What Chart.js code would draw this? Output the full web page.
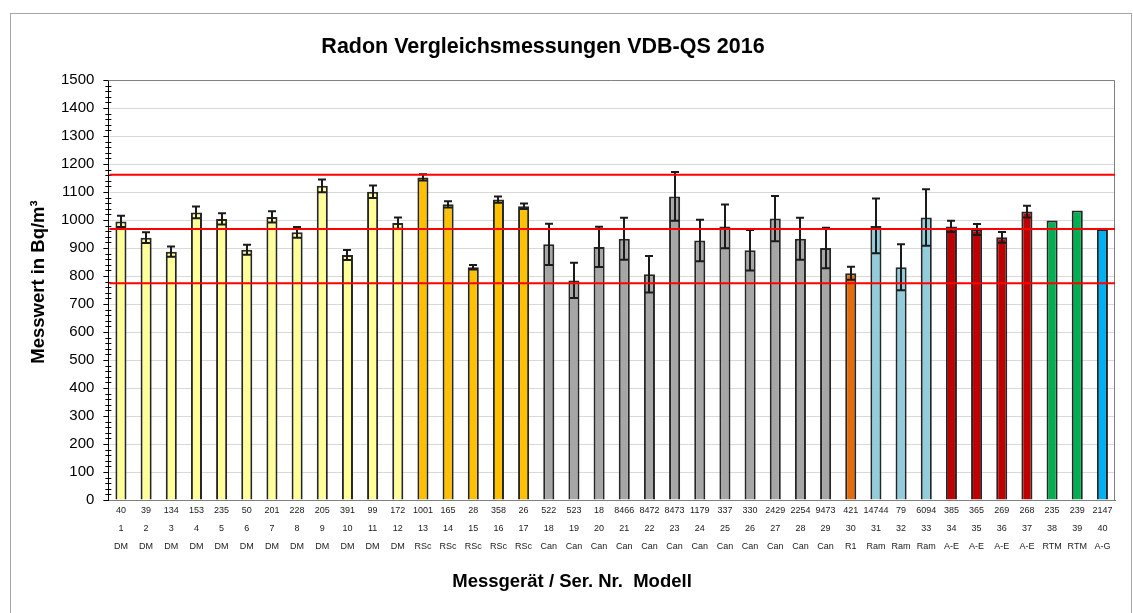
<!DOCTYPE html>
<html>
<head>
<meta charset="utf-8">
<title>Radon Vergleichsmessungen VDB-QS 2016</title>
<script src="https://cdn.jsdelivr.net/npm/chart.js@4.4.1/dist/chart.umd.min.js"></script>
<style>
  html, body { margin: 0; padding: 0; background: #fff; }
  #wrap { position: relative; width: 1133px; height: 613px; overflow: hidden; }
  #frame { position: absolute; left: 10px; top: 13px; width: 1120px; height: 660px; border: 1px solid #a6a6a6; }
  #radonChart { position: absolute; left: 0; top: 0; }
</style>
</head>
<body>
<div id="wrap">
  <div id="frame"></div>
  <canvas id="radonChart" width="1133" height="613"></canvas>
</div>
<script>

const serials = [40, 39, 134, 153, 235, 50, 201, 228, 205, 391, 99, 172, 1001, 165, 28, 358, 26,
  522, 523, 18, 8466, 8472, 8473, 1179, 337, 330, 2429, 2254, 9473, 421, 14744, 79, 6094,
  385, 365, 269, 268, 235, 239, 2147];
const deviceNos = [1, 2, 3, 4, 5, 6, 7, 8, 9, 10, 11, 12, 13, 14, 15, 16, 17, 18, 19, 20,
  21, 22, 23, 24, 25, 26, 27, 28, 29, 30, 31, 32, 33, 34, 35, 36, 37, 38, 39, 40];
const models = ['DM', 'DM', 'DM', 'DM', 'DM', 'DM', 'DM', 'DM', 'DM', 'DM', 'DM', 'DM',
  'RSc', 'RSc', 'RSc', 'RSc', 'RSc',
  'Can', 'Can', 'Can', 'Can', 'Can', 'Can', 'Can', 'Can', 'Can', 'Can', 'Can', 'Can',
  'R1', 'Ram', 'Ram', 'Ram', 'A-E', 'A-E', 'A-E', 'A-E', 'RTM', 'RTM', 'A-G'];

const values = [995, 937, 887, 1027, 1004, 894, 1011, 956, 1122, 875, 1101, 989,
  1152, 1056, 831, 1073, 1049,
  913, 784, 904, 933, 806, 1084, 927, 977, 892, 1005, 933, 900,
  810, 979, 831, 1009, 977, 966, 938, 1030, 998, 1034, 968];
const errors = [20, 19, 18, 21, 20, 18, 20, 19, 23, 18, 22, 20,
  11, 11, 8, 11, 10,
  74, 63, 72, 75, 65, 87, 74, 78, 72, 81, 75, 72,
  23, 98, 82, 101, 20, 20, 19, 21, null, null, null];

// reference value and +/-20 % limits
const refLines = [774.4, 968, 1161.6];
const yTicks = [0, 1500, 100];

const chartTitle = 'Radon Vergleichsmessungen VDB-QS 2016';
const xTitle = 'Messgerät / Ser. Nr.  Modell';
const yTitle = 'Messwert in Bq/m³';

const modelColors = {
  'DM': '#FFFF99', 'RSc': '#FFC000', 'Can': '#A6A6A6', 'R1': '#E46C0A',
  'Ram': '#92CDDC', 'A-E': '#C00000', 'RTM': '#00B050', 'A-G': '#00B0F0'
};

const FONT = "'Liberation Sans', Arial, sans-serif";
Chart.defaults.font.family = FONT;

const labels = serials.map((s, i) => [String(s), String(deviceNos[i]), models[i]]);

// plot frame, minor ticks, error bars, limit lines and the titles
const decorPlugin = {
  id: 'decor',
  beforeDatasetsDraw(chart) {
    const { ctx, chartArea: a } = chart;
    ctx.save();
    ctx.strokeStyle = '#808080';
    ctx.lineWidth = 1;
    ctx.beginPath();
    ctx.moveTo(a.left, a.top + 0.5);
    ctx.lineTo(a.right - 0.5, a.top + 0.5);
    ctx.lineTo(a.right - 0.5, a.bottom);
    ctx.stroke();
    ctx.restore();
  },
  afterDatasetsDraw(chart) {
    const { ctx, chartArea: a, scales } = chart;
    const y = scales.y;
    const meta = chart.getDatasetMeta(0);
    ctx.save();

    // minor ticks on the value axis
    ctx.strokeStyle = '#000';
    ctx.lineWidth = 1;
    ctx.beginPath();
    for (let v = 0; v <= yTicks[1]; v += 20) {
      if (v % yTicks[2] === 0) continue;
      const py = Math.round(y.getPixelForValue(v)) + 0.5;
      ctx.moveTo(a.left - 3, py);
      ctx.lineTo(a.left + 3, py);
    }
    ctx.stroke();

    // error bars
    ctx.strokeStyle = '#1a1a1a';
    ctx.lineWidth = 2;
    meta.data.forEach((bar, i) => {
      const err = errors[i];
      if (!err) return;
      const x = Math.round(bar.x);
      const hi = y.getPixelForValue(values[i] + err);
      const lo = y.getPixelForValue(values[i] - err);
      ctx.beginPath();
      ctx.moveTo(x, hi);
      ctx.lineTo(x, lo);
      ctx.moveTo(x - 4, hi);
      ctx.lineTo(x + 4, hi);
      ctx.moveTo(x - 4, lo);
      ctx.lineTo(x + 4, lo);
      ctx.stroke();
    });

    // reference and limit lines
    ctx.strokeStyle = '#FF0000';
    ctx.lineWidth = 2;
    refLines.forEach(v => {
      const py = y.getPixelForValue(v);
      ctx.beginPath();
      ctx.moveTo(a.left + 1, py);
      ctx.lineTo(a.right, py);
      ctx.stroke();
    });
    ctx.restore();
  },
  afterDraw(chart) {
    const { ctx } = chart;
    ctx.save();
    ctx.fillStyle = '#000';
    ctx.textAlign = 'center';
    ctx.textBaseline = 'middle';
    ctx.font = `bold 21.5px ${FONT}`;
    ctx.fillText(chartTitle, 543, 47);
    ctx.font = `bold 18.5px ${FONT}`;
    ctx.fillText(xTitle, 572, 582);
    ctx.translate(39, 282);
    ctx.rotate(-Math.PI / 2);
    ctx.fillText(yTitle, 0, 0);
    ctx.restore();
  }
};

new Chart(document.getElementById('radonChart'), {
  type: 'bar',
  data: {
    labels: labels,
    datasets: [{
      label: 'Messwert',
      data: values,
      backgroundColor: models.map(m => modelColors[m]),
      borderColor: '#262626',
      borderWidth: 2,
      categoryPercentage: 1,
      barPercentage: 0.44
    }]
  },
  options: {
    responsive: false,
    animation: false,
    layout: { padding: { left: 52, right: 18, top: 80, bottom: 55 } },
    plugins: {
      legend: { display: false },
      tooltip: { enabled: false },
      title: { display: false }
    },
    scales: {
      x: {
        grid: { display: false, drawTicks: false },
        border: { display: true, color: '#808080', width: 1 },
        ticks: {
          color: '#1a1a1a',
          font: { size: 9, lineHeight: 2 },
          padding: 2,
          autoSkip: false,
          maxRotation: 0
        }
      },
      y: {
        min: yTicks[0],
        max: yTicks[1],
        grid: { color: '#d9d9d9', tickColor: '#000', tickLength: 5, drawTicks: true },
        border: { display: true, color: '#000', width: 1 },
        ticks: {
          stepSize: yTicks[2],
          color: '#000',
          font: { size: 15 },
          padding: 9,
          callback: v => String(v)
        }
      }
    }
  },
  plugins: [decorPlugin]
});
</script>
</body>
</html>
